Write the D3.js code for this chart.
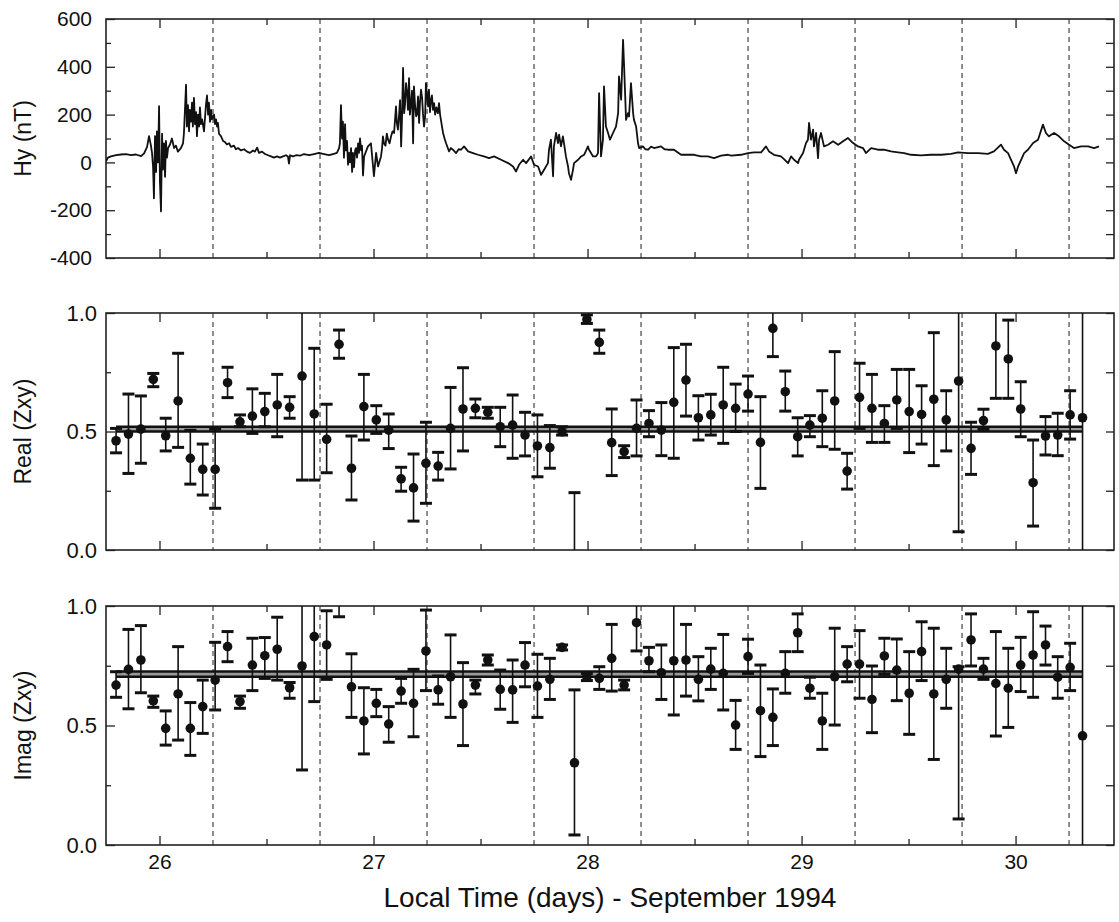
<!DOCTYPE html>
<html>
<head>
<meta charset="utf-8">
<script src="https://cdn.jsdelivr.net/npm/d3@7"></script>
<style>
  body { margin: 0; background: #fff; }
  text { font-family: "Liberation Sans", Arial, Helvetica, sans-serif; fill: #111; }
</style>
</head>
<body>
<div id="chart"></div>
<script>
// Hy magnetic field, [local time in days, nT]
var hyData = [
  [25.750, 5], [25.759, 20], [25.773, 25], [25.797, 30], [25.820, 33], [25.843, 35], [25.867, 30], [25.890, 33],
  [25.914, 26], [25.928, 38], [25.942, 65], [25.951, 110], [25.960, 70], [25.965, 40], [25.970, -20], [25.974, -150],
  [25.979, 110], [25.984, -40], [25.988, 130], [25.993, 0], [25.998, 235], [26.002, -80], [26.007, -205], [26.012, 120],
  [26.016, -30], [26.021, 80], [26.026, -60], [26.030, 90], [26.035, 20], [26.040, 60], [26.049, 75], [26.058, 100],
  [26.068, 60], [26.077, 70], [26.086, 45], [26.100, 60], [26.110, 80], [26.114, 120], [26.124, 325], [26.128, 150],
  [26.133, 240], [26.138, 130], [26.142, 220], [26.147, 170], [26.152, 250], [26.156, 150], [26.161, 270], [26.166, 160],
  [26.171, 210], [26.175, 110], [26.180, 200], [26.185, 150], [26.189, 230], [26.194, 160], [26.199, 180], [26.208, 130],
  [26.217, 240], [26.222, 280], [26.227, 200], [26.231, 250], [26.236, 170], [26.241, 220], [26.245, 180], [26.255, 200],
  [26.259, 160], [26.264, 180], [26.269, 150], [26.273, 165], [26.278, 120], [26.287, 110], [26.297, 90], [26.306, 85],
  [26.315, 75], [26.325, 80], [26.334, 65], [26.348, 70], [26.357, 55], [26.367, 60], [26.381, 50], [26.395, 55],
  [26.409, 45], [26.423, 40], [26.437, 50], [26.446, 45], [26.456, 62], [26.465, 40], [26.479, 45], [26.493, 35],
  [26.507, 30], [26.521, 25], [26.535, 20], [26.549, 25], [26.563, 20], [26.577, 25], [26.591, 30], [26.600, 25],
  [26.605, -5], [26.610, 30], [26.624, 25], [26.638, 30], [26.657, 28], [26.675, 35], [26.699, 30], [26.722, 35],
  [26.745, 40], [26.769, 35], [26.792, 30], [26.811, 35], [26.829, 40], [26.839, 60], [26.843, 80], [26.848, 240],
  [26.853, 100], [26.857, 170], [26.862, 20], [26.867, 160], [26.871, 50], [26.876, 90], [26.881, -10], [26.886, 40],
  [26.890, 0], [26.895, 60], [26.900, -40], [26.904, 40], [26.909, -20], [26.914, 50], [26.918, 60], [26.923, 20],
  [26.928, 80], [26.932, 40], [26.937, 100], [26.942, 50], [26.946, 70], [26.951, -55], [26.956, 25], [26.974, 67],
  [26.988, 80], [27.002, -58], [27.012, 40], [27.021, -17], [27.035, 25], [27.040, 60], [27.044, 109], [27.049, 80],
  [27.056, 70], [27.062, 120], [27.068, 95], [27.075, 80], [27.082, 109], [27.089, 130], [27.096, 123], [27.105, 234],
  [27.109, 165], [27.114, 137], [27.119, 193], [27.124, 260], [27.129, 67], [27.133, 180], [27.138, 395], [27.143, 206],
  [27.147, 240], [27.152, 332], [27.157, 290], [27.161, 220], [27.166, 353], [27.170, 200], [27.175, 248], [27.180, 300],
  [27.185, 80], [27.189, 318], [27.194, 240], [27.199, 193], [27.203, 200], [27.208, 276], [27.213, 165], [27.217, 250],
  [27.222, 304], [27.227, 270], [27.231, 206], [27.236, 150], [27.241, 190], [27.245, 332], [27.250, 280], [27.255, 234],
  [27.259, 304], [27.264, 210], [27.269, 262], [27.273, 280], [27.278, 220], [27.283, 248], [27.288, 200], [27.294, 230],
  [27.301, 206], [27.306, 248], [27.311, 200], [27.315, 178], [27.320, 150], [27.325, 123], [27.332, 100], [27.339, 80],
  [27.353, 46], [27.362, 60], [27.371, 53], [27.386, 39], [27.398, 55], [27.409, 53], [27.423, 67], [27.442, 46],
  [27.465, 39], [27.488, 32], [27.516, 25], [27.540, 18], [27.563, 25], [27.596, 11], [27.629, -3], [27.652, -17],
  [27.666, -38], [27.680, -10], [27.699, 11], [27.713, -3], [27.736, 25], [27.750, -10], [27.769, -17], [27.783, -52],
  [27.797, -31], [27.815, -3], [27.820, 53], [27.829, 95], [27.839, -58], [27.843, 67], [27.853, 123], [27.862, 81],
  [27.867, 116], [27.876, 67], [27.885, 109], [27.890, 81], [27.899, 25], [27.909, -17], [27.913, -45], [27.923, -73],
  [27.932, -31], [27.937, -3], [27.956, 11], [27.970, 25], [27.984, 32], [28.002, 67], [28.007, 53], [28.026, 25],
  [28.040, 25], [28.049, 39], [28.054, 290], [28.063, 25], [28.072, 95], [28.077, 318], [28.086, 150], [28.096, 123],
  [28.105, 95], [28.119, 123], [28.133, 150], [28.143, 206], [28.147, 360], [28.157, 262], [28.166, 513], [28.171, 400],
  [28.180, 178], [28.189, 206], [28.194, 192], [28.203, 332], [28.213, 206], [28.217, 178], [28.227, 150], [28.236, 80],
  [28.241, 60], [28.259, 67], [28.270, 55], [28.283, 53], [28.297, 66], [28.311, 60], [28.343, 67], [28.360, 55],
  [28.376, 53], [28.404, 53], [28.437, 32], [28.470, 32], [28.498, 32], [28.530, 25], [28.563, 25], [28.591, 18],
  [28.624, 28], [28.657, 32], [28.671, 28], [28.717, 32], [28.750, 39], [28.778, 42], [28.811, 42], [28.834, 67],
  [28.848, 46], [28.871, 32], [28.904, 25], [28.918, 14], [28.937, -3], [28.951, 25], [28.965, 11], [28.984, -3],
  [28.988, 11], [29.007, 39], [29.021, 81], [29.030, 95], [29.035, 165], [29.044, 95], [29.054, 137], [29.058, 67],
  [29.068, 123], [29.077, 18], [29.082, 95], [29.091, 123], [29.105, 67], [29.124, 74], [29.147, 88], [29.171, 74],
  [29.194, 88], [29.217, 102], [29.241, 81], [29.264, 67], [29.287, 60], [29.301, 39], [29.325, 60], [29.357, 53],
  [29.385, 53], [29.418, 46], [29.451, 42], [29.479, 39], [29.512, 32], [29.558, 29], [29.605, 32], [29.652, 32],
  [29.699, 36], [29.731, 42], [29.778, 39], [29.825, 39], [29.871, 36], [29.899, 46], [29.932, 74], [29.946, 53],
  [29.965, 39], [29.979, 11], [29.993, -17], [30.002, -45], [30.012, -17], [30.026, 11], [30.040, 39], [30.058, 53],
  [30.082, 81], [30.105, 95], [30.128, 158], [30.142, 123], [30.156, 109], [30.180, 123], [30.203, 109], [30.227, 88],
  [30.250, 74], [30.273, 60], [30.306, 67], [30.339, 67], [30.367, 60], [30.390, 67]
];

// times of the impedance estimates (days)
var estDays = [
  25.797, 25.855, 25.913, 25.971, 26.029, 26.087, 26.144, 26.202, 26.260, 26.318,
  26.376, 26.434, 26.492, 26.550, 26.608, 26.666, 26.723, 26.781, 26.839, 26.897,
  26.955, 27.013, 27.071, 27.129, 27.187, 27.245, 27.302, 27.360, 27.418, 27.476,
  27.534, 27.592, 27.650, 27.708, 27.766, 27.824, 27.881, 27.939, 27.997, 28.055,
  28.113, 28.171, 28.229, 28.287, 28.345, 28.403, 28.460, 28.518, 28.576, 28.634,
  28.692, 28.750, 28.808, 28.866, 28.924, 28.982, 29.039, 29.097, 29.155, 29.213,
  29.271, 29.329, 29.387, 29.445, 29.503, 29.561, 29.618, 29.676, 29.734, 29.792,
  29.850, 29.908, 29.966, 30.024, 30.082, 30.140, 30.197, 30.255, 30.313
];

// Real (Zxy): estimate, lower and upper error limits
var realValues = [
  0.461, 0.489, 0.510, 0.720, 0.482, 0.629, 0.387, 0.340, 0.340, 0.706,
  0.541, 0.565, 0.584, 0.612, 0.602, 0.734, 0.574, 0.467, 0.868, 0.345,
  0.605, 0.549, 0.506, 0.300, 0.262, 0.366, 0.354, 0.513, 0.595, 0.598,
  0.581, 0.520, 0.527, 0.485, 0.439, 0.432, 0.499, -0.200, 0.973, 0.876,
  0.453, 0.415, 0.513, 0.534, 0.506, 0.623, 0.717, 0.558, 0.570, 0.612,
  0.598, 0.658, 0.454, 0.935, 0.668, 0.478, 0.527, 0.556, 0.629, 0.333,
  0.644, 0.598, 0.534, 0.633, 0.584, 0.572, 0.636, 0.549, 0.713, 0.429,
  0.546, 0.861, 0.806, 0.595, 0.284, 0.481, 0.485, 0.570, 0.558
];
var realLow = [
  0.410, 0.323, 0.366, 0.689, 0.418, 0.433, 0.278, 0.232, 0.176, 0.643,
  0.520, 0.492, 0.520, 0.478, 0.556, 0.295, 0.295, 0.326, 0.809, 0.211,
  0.464, 0.492, 0.428, 0.248, 0.122, 0.197, 0.295, 0.342, 0.418, 0.558,
  0.556, 0.436, 0.387, 0.397, 0.309, 0.345, 0.485, -0.450, 0.956, 0.830,
  0.314, 0.390, 0.397, 0.478, 0.398, 0.387, 0.565, 0.464, 0.485, 0.450,
  0.500, 0.586, 0.260, 0.816, 0.586, 0.397, 0.478, 0.436, 0.425, 0.257,
  0.513, 0.454, 0.454, 0.513, 0.411, 0.447, 0.356, 0.418, 0.077, 0.319,
  0.509, 0.640, 0.640, 0.478, 0.101, 0.401, 0.398, 0.468, -0.300
];
var realHigh = [
  0.513, 0.658, 0.650, 0.745, 0.556, 0.830, 0.505, 0.447, 0.510, 0.771,
  0.570, 0.680, 0.661, 0.741, 0.647, 1.300, 0.851, 0.615, 0.928, 0.481,
  0.741, 0.609, 0.574, 0.349, 0.405, 0.539, 0.412, 0.686, 0.769, 0.637,
  0.602, 0.602, 0.654, 0.581, 0.570, 0.525, 0.520, 0.242, 0.992, 0.928,
  0.595, 0.440, 0.633, 0.588, 0.622, 0.854, 0.868, 0.651, 0.657, 0.771,
  0.700, 0.734, 0.647, 1.050, 0.755, 0.558, 0.567, 0.672, 0.837, 0.408,
  0.788, 0.741, 0.609, 0.762, 0.762, 0.693, 0.917, 0.672, 1.300, 0.539,
  0.594, 1.150, 0.970, 0.710, 0.464, 0.563, 0.577, 0.672, 1.300
];

// Imag (Zxy): estimate, lower and upper error limits
var imagValues = [
  0.669, 0.735, 0.774, 0.603, 0.488, 0.632, 0.488, 0.579, 0.690, 0.830,
  0.600, 0.753, 0.792, 0.819, 0.658, 0.749, 0.872, 0.837, 1.100, 0.662,
  0.519, 0.593, 0.506, 0.644, 0.593, 0.812, 0.649, 0.704, 0.590, 0.669,
  0.774, 0.651, 0.649, 0.753, 0.665, 0.693, 0.827, 0.344, 0.703, 0.697,
  0.781, 0.669, 0.930, 0.771, 0.721, 0.771, 0.774, 0.693, 0.736, 0.718,
  0.502, 0.788, 0.562, 0.534, 0.718, 0.888, 0.656, 0.519, 0.704, 0.757,
  0.757, 0.609, 0.791, 0.732, 0.635, 0.809, 0.632, 0.693, 0.736, 0.858,
  0.736, 0.676, 0.656, 0.753, 0.795, 0.837, 0.702, 0.743, 0.457
];
var imagLow = [
  0.618, 0.570, 0.637, 0.576, 0.418, 0.439, 0.375, 0.467, 0.565, 0.767,
  0.572, 0.646, 0.697, 0.690, 0.614, 0.314, 0.600, 0.693, 0.955, 0.534,
  0.381, 0.537, 0.430, 0.593, 0.453, 0.646, 0.589, 0.534, 0.416, 0.632,
  0.753, 0.568, 0.513, 0.662, 0.534, 0.609, 0.816, 0.042, 0.688, 0.651,
  0.644, 0.649, 0.812, 0.725, 0.609, 0.544, 0.623, 0.603, 0.651, 0.565,
  0.400, 0.718, 0.370, 0.416, 0.635, 0.809, 0.614, 0.400, 0.502, 0.683,
  0.614, 0.470, 0.714, 0.604, 0.463, 0.688, 0.358, 0.572, 0.109, 0.749,
  0.693, 0.456, 0.492, 0.642, 0.618, 0.753, 0.614, 0.646, -0.200
];
var imagHigh = [
  0.725, 0.902, 0.918, 0.623, 0.561, 0.830, 0.596, 0.690, 0.848, 0.893,
  0.623, 0.865, 0.868, 0.953, 0.680, 1.100, 1.100, 0.980, 1.250, 0.800,
  0.658, 0.651, 0.579, 0.697, 0.735, 0.983, 0.707, 0.879, 0.763, 0.690,
  0.795, 0.732, 0.774, 0.847, 0.798, 0.781, 0.837, 0.649, 0.718, 0.746,
  0.923, 0.690, 1.050, 0.827, 0.837, 1.050, 0.923, 0.788, 0.823, 0.881,
  0.605, 0.861, 0.753, 0.653, 0.809, 0.967, 0.702, 0.635, 0.907, 0.830,
  0.897, 0.749, 0.865, 0.862, 0.809, 0.934, 0.907, 0.823, 0.746, 0.967,
  0.781, 0.893, 0.823, 0.869, 0.976, 0.916, 0.788, 0.844, 1.200
];

// mean impedance with its uncertainty
var realMean = 0.51, realMeanErr = 0.01;
var imagMean = 0.715, imagMeanErr = 0.011;

// local noon / midnight markers
var dashDays = [26.25, 26.75, 27.25, 27.75, 28.25, 28.75, 29.25, 29.75, 30.25];
var dayTicks = [26, 27, 28, 29, 30];
var halfDayTicks = [26.5, 27.5, 28.5, 29.5];
var hyTicks = [-400, -200, 0, 200, 400, 600];
var hyMinorTicks = [-300, -100, 100, 300, 500];
var zTicks = [0, 0.5, 1.0];
var zMinorTicks = [0.25, 0.75];

var plotLeft = 106, plotRight = 1114;

var svg = d3.select("#chart")
    .append("svg")
    .attr("width", 1119)
    .attr("height", 922);

var x = d3.scaleLinear()
    .domain([25.75, 30.46])
    .range([plotLeft, plotRight]);

// builds one panel: frame, dashed markers and inward ticks
function makePanel(id, top, bottom, domain, major, minor, fmt, pad, labelSize, title, showDays) {
    var y = d3.scaleLinear().domain(domain).range([bottom, top]);
    var g = svg.append("g");

    svg.append("clipPath").attr("id", id)
        .append("rect")
        .attr("x", plotLeft).attr("y", top)
        .attr("width", plotRight - plotLeft).attr("height", bottom - top);

    g.selectAll(".dash")
        .data(dashDays)
        .enter()
        .append("line")
        .attr("x1", function (d) { return x(d); })
        .attr("x2", function (d) { return x(d); })
        .attr("y1", top)
        .attr("y2", bottom)
        .attr("stroke", "#333")
        .attr("stroke-width", 1.1)
        .attr("stroke-dasharray", "5,4");

    function style(sel) {
        sel.select(".domain").remove();
        sel.selectAll(".tick line").attr("stroke", "#222").attr("stroke-width", 1.3);
        sel.selectAll("text").style("font-size", labelSize + "px").attr("fill", "#111");
    }

    // left
    g.append("g").attr("transform", "translate(" + plotLeft + ",0)")
        .call(d3.axisLeft(y).tickValues(major).tickSize(-9).tickPadding(pad).tickFormat(fmt))
        .call(style);
    g.append("g").attr("transform", "translate(" + plotLeft + ",0)")
        .call(d3.axisLeft(y).tickValues(minor).tickSize(-5).tickFormat(""))
        .call(style);
    // right
    g.append("g").attr("transform", "translate(" + plotRight + ",0)")
        .call(d3.axisRight(y).tickValues(major.concat(minor)).tickSize(-8).tickFormat(""))
        .call(style);
    // top
    g.append("g").attr("transform", "translate(0," + top + ")")
        .call(d3.axisTop(x).tickValues(dayTicks).tickSize(-9).tickFormat(""))
        .call(style);
    g.append("g").attr("transform", "translate(0," + top + ")")
        .call(d3.axisTop(x).tickValues(halfDayTicks).tickSize(-6).tickFormat(""))
        .call(style);
    // bottom
    g.append("g").attr("transform", "translate(0," + bottom + ")")
        .call(d3.axisBottom(x).tickValues(dayTicks).tickSize(-9).tickPadding(9)
            .tickFormat(showDays ? function (d) { return String(d); } : ""))
        .call(style)
        .selectAll("text").style("font-size", "21px");
    g.append("g").attr("transform", "translate(0," + bottom + ")")
        .call(d3.axisBottom(x).tickValues(halfDayTicks).tickSize(-6).tickFormat(""))
        .call(style);

    g.append("rect")
        .attr("x", plotLeft).attr("y", top)
        .attr("width", plotRight - plotLeft).attr("height", bottom - top)
        .attr("fill", "none")
        .attr("stroke", "#222")
        .attr("stroke-width", 1.6);

    svg.append("text")
        .attr("transform", "translate(23," + ((top + bottom) / 2) + ") rotate(-90)")
        .attr("dy", "0.35em")
        .attr("text-anchor", "middle")
        .style("font-size", "23px")
        .text(title);

    var plot = svg.append("g").attr("clip-path", "url(#" + id + ")");
    return { y: y, plot: plot };
}

var hyPanel = makePanel("clipHy", 19, 258, [-400, 600], hyTicks, hyMinorTicks,
    function (d) { return String(d); }, 14, 21, "Hy (nT)", false);
var realPanel = makePanel("clipRe", 313, 550, [0, 1], zTicks, zMinorTicks,
    d3.format(".1f"), 9, 22, "Real (Zxy)", false);
var imagPanel = makePanel("clipIm", 606, 845, [0, 1], zTicks, zMinorTicks,
    d3.format(".1f"), 9, 22, "Imag (Zxy)", true);

// Hy trace
hyPanel.plot.append("path")
    .datum(hyData)
    .attr("fill", "none")
    .attr("stroke", "#111")
    .attr("stroke-width", 1.8)
    .attr("stroke-linejoin", "round")
    .attr("d", d3.line()
        .x(function (d) { return x(d[0]); })
        .y(function (d) { return hyPanel.y(d[1]); }));

// mean band + error bars
function drawEstimates(panel, values, low, high, mean, err) {
    var y = panel.y;
    var rows = estDays.map(function (d, i) {
        return { day: d, v: values[i], lo: low[i], hi: high[i] };
    });
    var x0 = x(estDays[0]), x1 = x(estDays[estDays.length - 1]);

    panel.plot.append("rect")
        .attr("x", x0).attr("width", x1 - x0)
        .attr("y", y(mean + err)).attr("height", y(mean - err) - y(mean + err))
        .attr("fill", "#9a9a9a");
    [mean + err, mean - err].forEach(function (m) {
        panel.plot.append("line")
            .attr("x1", x0).attr("x2", x1)
            .attr("y1", y(m)).attr("y2", y(m))
            .attr("stroke", "#111")
            .attr("stroke-width", 2.6);
    });

    var pts = panel.plot.selectAll(".est")
        .data(rows)
        .enter()
        .append("g");

    pts.append("line")
        .attr("x1", function (d) { return x(d.day); })
        .attr("x2", function (d) { return x(d.day); })
        .attr("y1", function (d) { return y(d.lo); })
        .attr("y2", function (d) { return y(d.hi); })
        .attr("stroke", "#111")
        .attr("stroke-width", 1.6);

    ["lo", "hi"].forEach(function (k) {
        pts.append("line")
            .attr("x1", function (d) { return x(d.day) - 6; })
            .attr("x2", function (d) { return x(d.day) + 6; })
            .attr("y1", function (d) { return y(d[k]); })
            .attr("y2", function (d) { return y(d[k]); })
            .attr("stroke", "#111")
            .attr("stroke-width", 3);
    });

    pts.append("circle")
        .attr("cx", function (d) { return x(d.day); })
        .attr("cy", function (d) { return y(d.v); })
        .attr("r", 4.8)
        .attr("fill", "#111");
}

drawEstimates(realPanel, realValues, realLow, realHigh, realMean, realMeanErr);
drawEstimates(imagPanel, imagValues, imagLow, imagHigh, imagMean, imagMeanErr);

svg.append("text")
    .attr("x", (plotLeft + plotRight) / 2)
    .attr("y", 907)
    .attr("text-anchor", "middle")
    .style("font-size", "28px")
    .text("Local Time (days) - September 1994");
</script>
</body>
</html>
